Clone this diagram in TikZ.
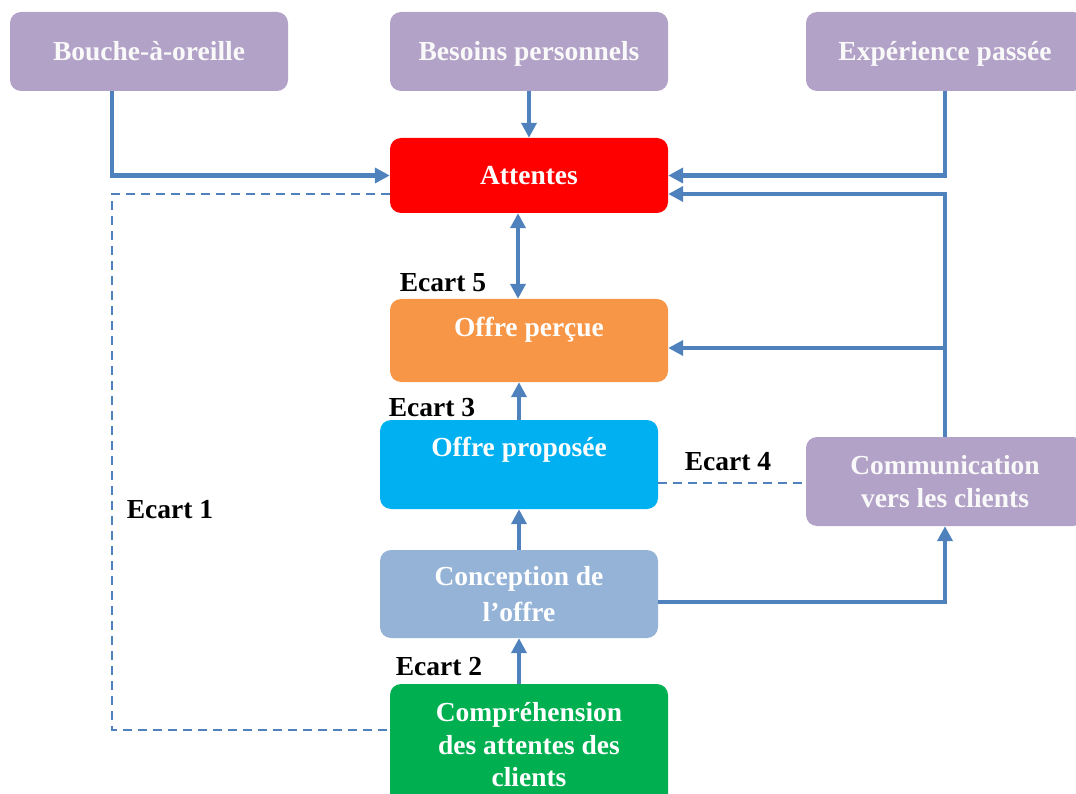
\documentclass[tikz,border=0pt]{standalone}
\usepackage{fontspec}
\setmainfont{Liberation Serif}
\usetikzlibrary{arrows.meta}

\definecolor{lavender}{HTML}{B2A2C7}
\definecolor{redbox}{HTML}{FF0000}
\definecolor{orangebox}{HTML}{F79646}
\definecolor{cyanbox}{HTML}{00B0F0}
\definecolor{paleblue}{HTML}{95B3D7}
\definecolor{greenbox}{HTML}{00B050}
\definecolor{linkblue}{HTML}{4F81BD}

\begin{document}
\begin{tikzpicture}[x=1pt, y=-1pt,
  box/.style={rounded corners=11pt, minimum width=278pt, inner sep=0pt,
    align=center, text=white, font=\bfseries\fontsize{27.5}{32.5}\selectfont},
  boxtext/.style={inner sep=0pt, text=white, text height=18pt, text depth=0pt,
    font=\bfseries\fontsize{27.5}{32.5}\selectfont},
  oneline/.style={text height=18pt, text depth=0pt},
  ecart/.style={inner sep=0pt, text=black, text height=18pt, text depth=0pt,
    font=\bfseries\fontsize{27.5}{32.5}\selectfont},
  arr/.style={draw=linkblue, line width=4.5pt, -{Triangle[length=15pt,width=15pt]}},
  arrboth/.style={draw=linkblue, line width=4pt,
    {Triangle[length=15pt,width=15pt]}-{Triangle[length=15pt,width=15pt]}},
  gap/.style={draw=linkblue, line width=1.6pt, dash pattern=on 9pt off 6pt}
]
\useasboundingbox (0,0) rectangle (1076,794);
\clip (0,0) rectangle (1076,794);

% sources of expectations
\node[box, oneline, fill=lavender, minimum height=79pt, text=white!95!gray] (bouche) at (149,51.5) {Bouche-à-oreille};
\node[box, oneline, fill=lavender, minimum height=79pt, text=white!95!gray] (besoins) at (529,51.5) {Besoins personnels};
\node[box, oneline, fill=lavender, minimum height=79pt, text=white!95!gray] (experience) at (945,51.5) {Expérience passée};

% central chain
\node[box, oneline, fill=redbox, minimum height=75pt] (attentes) at (529,175.5) {Attentes};
\node[box, fill=orangebox, minimum height=83pt] (percue) at (529,340.5) {};
\node[boxtext] (percue-t) at ([yshift=13.5pt]percue.center) {Offre perçue};
\node[box, fill=cyanbox, minimum height=89pt] (proposee) at (519,464.5) {};
\node[boxtext] (proposee-t) at ([yshift=17pt]proposee.center) {Offre proposée};
\node[box, fill=paleblue, minimum height=88pt,
  font=\bfseries\fontsize{27.5}{36}\selectfont] (conception) at (519,594) {Conception de\\l’offre};
\node[box, fill=greenbox, minimum height=122pt] (comprehension) at (529,745) {Compréhension\\des attentes des\\clients};
\node[box, fill=lavender, minimum height=89pt, text=white!95!gray] (comm) at (945,481.5) {Communication\\vers les clients};

% gap labels
\node[ecart] (e5) at (443,283) {Ecart 5};
\node[ecart] (e3) at (432,407) {Ecart 3};
\node[ecart] (e4) at (728,461) {Ecart 4};
\node[ecart] (e1) at (170,509) {Ecart 1};
\node[ecart] (e2) at (439,666) {Ecart 2};

% rail positions
\coordinate (leftrail) at (112,0);
\coordinate (a1) at ([yshift=-18.5pt]attentes.west);
\coordinate (a2) at ([yshift=-18.5pt]attentes.east);
\coordinate (c1) at ([yshift=15pt]comprehension.west);
\coordinate (p1) at ([yshift=-7.5pt]percue.east);
\coordinate (o1) at ([yshift=-18.5pt]proposee.east);
\coordinate (k1) at ([yshift=-8pt]conception.east);

% influences on expectations
\draw[arr] ([xshift=-37pt]bouche.south) |- (attentes.west);
\draw[arr] (besoins.south) -- (attentes.north);
\draw[arr] (experience.south) |- (attentes.east);
\draw[arr] (comm.north) |- (a2);
\draw[arr] (comm.north |- p1) -- (p1);

% vertical chain
\draw[arrboth] ([xshift=-11pt]attentes.south) -- ([xshift=-11pt]percue.north);
\draw[arr] (proposee.north) -- (proposee.north |- percue.south);
\draw[arr] (conception.north) -- (proposee.south);
\draw[arr] (conception.south |- comprehension.north) -- (conception.south);
\draw[arr] (k1) -| (comm.south);

% gaps
\draw[gap] (o1) -- (comm.west |- o1);
\draw[gap] (a1) -- (leftrail |- a1) -- (leftrail |- c1) -- (c1);
\end{tikzpicture}
\end{document}
